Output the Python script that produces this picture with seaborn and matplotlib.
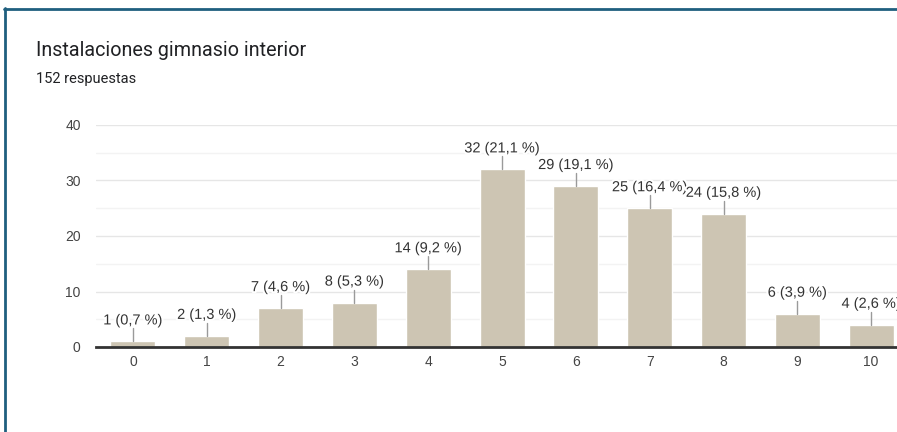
import matplotlib
matplotlib.use("Agg")
import matplotlib.pyplot as plt
import matplotlib.patheffects as pe
from matplotlib.lines import Line2D
import seaborn as sns
import pandas as pd

title = "Instalaciones gimnasio interior"
subtitle = "152 respuestas"
categories = ["0", "1", "2", "3", "4", "5", "6", "7", "8", "9", "10"]
counts = [1, 2, 7, 8, 14, 32, 29, 25, 24, 6, 4]
percents = ["0,7", "1,3", "4,6", "5,3", "9,2", "21,1", "19,1", "16,4", "15,8", "3,9", "2,6"]
y_ticks = [0, 10, 20, 30, 40]

sns.set_theme(style="white")
plt.rcParams["font.family"] = ["Liberation Sans", "DejaVu Sans"]

df = pd.DataFrame({"puntuacion": categories, "respuestas": counts})

W, H = 897, 432
fig = plt.figure(figsize=(W / 100, H / 100), dpi=100)
fig.patch.set_facecolor("white")

ax = fig.add_axes([96 / W, 1 - 347 / H, 1 - 96 / W, (347 - 125) / H])
sns.barplot(data=df, x="puntuacion", y="respuestas", order=categories,
            color="#cdc5b3", saturation=1, width=0.61, ax=ax, zorder=2)

ax.set_xlim(-0.5, 10.35)
ax.set_ylim(0, 40)
ax.set_yticks(y_ticks)
ax.set_yticks([5, 15, 25, 35], minor=True)
ax.grid(axis="y", which="major", color="#e6e6e6", linewidth=1, zorder=0)
ax.grid(axis="y", which="minor", color="#f3f3f3", linewidth=1, zorder=0)
ax.set_axisbelow(True)
for s in ["top", "right", "left"]:
    ax.spines[s].set_visible(False)
ax.spines["bottom"].set_color("#333333")
ax.spines["bottom"].set_linewidth(2)
ax.spines["bottom"].set_zorder(3)
ax.set_xlabel("")
ax.set_ylabel("")
ax.tick_params(axis="both", length=0, labelsize=10, labelcolor="#444444")
ax.tick_params(axis="y", pad=11)
ax.tick_params(axis="x", pad=6)

# value labels with short leader lines
px = 40 / (347 - 125)  # data units per pixel
for i, (c, p) in enumerate(zip(counts, percents)):
    ax.plot([i, i], [c, c + 13 * px], color="#9a9a9a", linewidth=1, zorder=3,
            clip_on=False)
    ax.text(i, c + 21 * px, f"{c} ({p} %)", ha="center", va="center",
            fontsize=10.5, color="#333333", zorder=4, clip_on=False,
            path_effects=[pe.withStroke(linewidth=3, foreground="white")])

fig.text(36 / W, 1 - 51 / H, title, fontsize=14.2, color="#202124",
         ha="left", va="center", family=["Roboto", "DejaVu Sans"])
fig.text(36 / W, 1 - 79 / H, subtitle, fontsize=10.5, color="#202124",
         ha="left", va="center", family=["Roboto", "DejaVu Sans"])

# card border
fig.add_artist(Line2D([5 / W, 5 / W], [0, 1 - 8 / H], transform=fig.transFigure,
                      color="#1f5f7f", linewidth=2))
fig.add_artist(Line2D([4 / W, 1], [1 - 9 / H, 1 - 9 / H], transform=fig.transFigure,
                      color="#1f5f7f", linewidth=2))

fig.savefig("out.png", dpi=100, facecolor="white")
